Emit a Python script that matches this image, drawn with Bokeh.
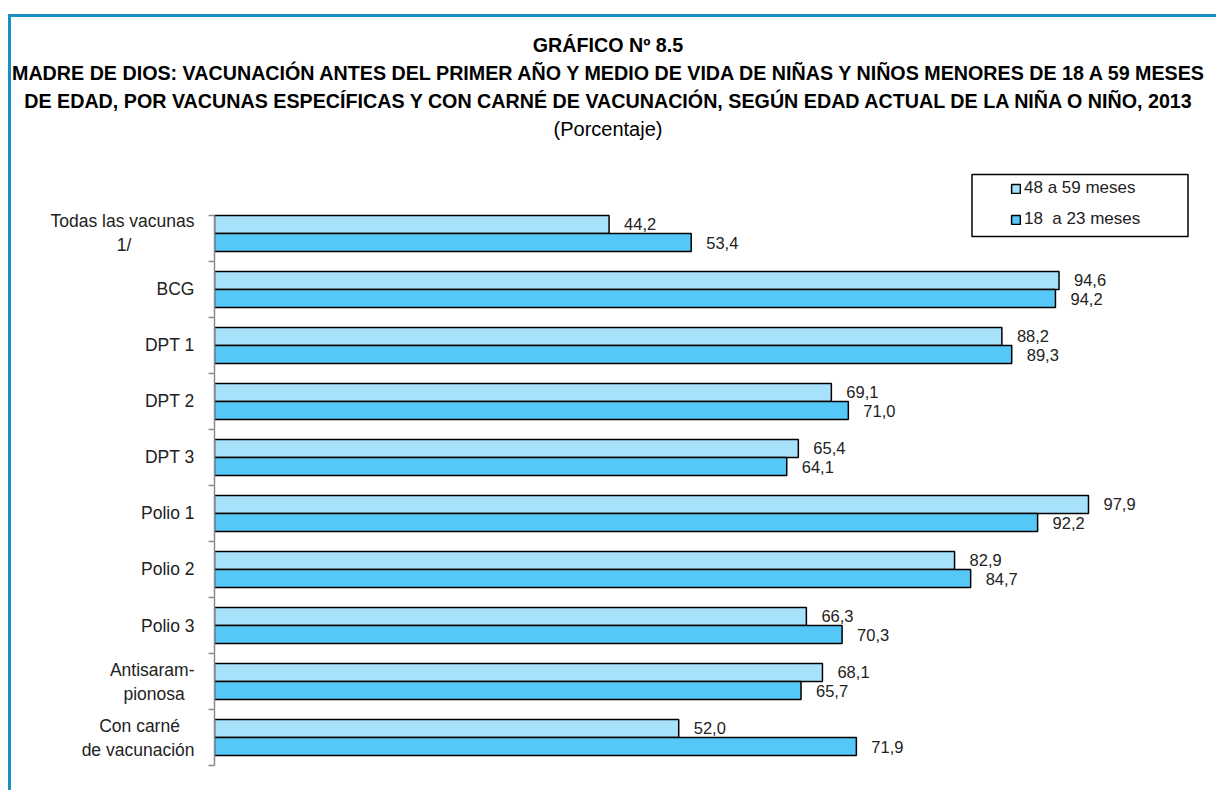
from bokeh.plotting import figure
from bokeh.layouts import column
from bokeh.models import (Range1d, LinearAxis, FixedTicker, ColumnDataSource, Legend,
                          LegendItem, BoxAnnotation, Div)
from bokeh.core.properties import value
from bokeh.transform import dodge
from bokeh.embed import file_html
from bokeh.resources import INLINE

# ---------------- data ----------------
categories = ["Todas las vacunas\n1/", "BCG", "DPT 1", "DPT 2", "DPT 3", "Polio 1",
              "Polio 2", "Polio 3", "Antisaram-\npionosa", "Con carné\nde vacunación"]
series_names = ["48 a 59 meses", "18  a 23 meses"]
vals_48_59 = [44.2, 94.6, 88.2, 69.1, 65.4, 97.9, 82.9, 66.3, 68.1, 52.0]
vals_18_23 = [53.4, 94.2, 89.3, 71.0, 64.1, 92.2, 84.7, 70.3, 65.7, 71.9]
title_lines = ["GRÁFICO Nº 8.5",
               "MADRE DE DIOS: VACUNACIÓN ANTES DEL PRIMER AÑO Y MEDIO DE VIDA DE NIÑAS Y NIÑOS MENORES DE 18 A 59 MESES",
               "DE EDAD, POR VACUNAS ESPECÍFICAS Y CON CARNÉ DE VACUNACIÓN, SEGÚN EDAD ACTUAL DE LA NIÑA O NIÑO, 2013"]
subtitle = "(Porcentaje)"

FONT = "Liberation Sans"
LIGHT = "#A8E1FB"
DARK = "#55C8F8"
BLUE = "#1a8fc4"
W = 1216
H_TOP = 160
H_MAIN = 630

n = len(categories)
centers = [i + 0.5 for i in range(n)]

# approximate Arial/Liberation Sans advance widths (em) to centre multi-line labels
_CW = {"T": .611, "o": .556, "d": .556, "a": .556, "s": .5, " ": .278, "l": .222,
       "v": .5, "c": .5, "u": .556, "n": .556, "1": .556, "/": .278, "A": .667,
       "t": .278, "i": .222, "r": .333, "m": .833, "-": .333, "p": .556, "C": .722,
       "é": .556, "e": .556, "ó": .556}
NBSP_W = .278


def centre_lines(label):
    lines = label.split("\n")
    if len(lines) == 1:
        return label
    widths = [sum(_CW.get(ch, .556) for ch in ln) for ln in lines]
    wmax = max(widths)
    out = [ln + "\u00a0" * int(round((wmax - w) / 2 / NBSP_W)) for ln, w in zip(lines, widths)]
    return "\n".join(out)


def fmt(v):
    return f"{v:.1f}".replace(".", ",")


src = ColumnDataSource(dict(
    y=centers,
    v1=vals_48_59, v2=vals_18_23,
    t1=[fmt(v) for v in vals_48_59], t2=[fmt(v) for v in vals_18_23],
))

# ---------------- title block ----------------
line_style = "height:28px;line-height:28px;text-align:center;white-space:nowrap;color:black;"
html = '<div style="padding-top:31px;width:%dpx;font-family:\'Liberation Sans\';">' % W
for t in title_lines:
    html += f'<div style="{line_style}font-size:19.7px;font-weight:bold;">{t}</div>'
html += f'<div style="{line_style}font-size:20px;font-weight:normal;">{subtitle}</div>'
html += "</div>"
top = Div(text=html, width=W, height=H_TOP, margin=0, styles={
    "background": f"linear-gradient({BLUE},{BLUE}) 8px 14px / calc(100% - 8px) 3px no-repeat, "
                  f"linear-gradient({BLUE},{BLUE}) 8px 14px / 3px 100% no-repeat",
})

# ---------------- main chart ----------------
p = figure(width=W, height=H_MAIN, output_backend="svg", toolbar_location=None,
           x_range=Range1d(0, 110), y_range=Range1d(10.232, -0.714),
           x_axis_location=None, y_axis_location=None,
           min_border_left=214, min_border_right=W - 1196, min_border_top=5,
           min_border_bottom=12, margin=0)
p.outline_line_color = None
p.xgrid.visible = False
p.ygrid.visible = False
p.border_fill_alpha = 0
p.background_fill_alpha = 0
p.styles = {
    "background": f"linear-gradient({BLUE},{BLUE}) 8px 0px / 3px 100% no-repeat",
}

yaxis = LinearAxis(
    ticker=FixedTicker(ticks=centers, minor_ticks=[0.18] + [i for i in range(1, n + 1)]),
    major_label_overrides={c: centre_lines(lab) for c, lab in zip(centers, categories)},
    bounds=(0.18, n),
)
yaxis.axis_line_color = "#8c8c8c"
yaxis.axis_line_width = 1.5
yaxis.major_tick_in = 0
yaxis.major_tick_out = 0
yaxis.minor_tick_in = 0
yaxis.minor_tick_out = 6
yaxis.minor_tick_line_color = "#8c8c8c"
yaxis.minor_tick_line_width = 1.5
yaxis.major_label_standoff = 14
yaxis.major_label_text_font = FONT
yaxis.major_label_text_font_size = "17.5px"
yaxis.major_label_text_color = "#222222"
p.add_layout(yaxis, "left")

# legend frame
p.add_layout(BoxAnnotation(left=84.85, right=109.05, top=-0.554, bottom=0.554,
                           fill_color="white", fill_alpha=1, line_color="black",
                           line_alpha=1, line_width=1.5))

r1 = p.hbar(y=dodge("y", -0.161), right="v1", left=0, height=0.322, source=src,
            fill_color=LIGHT, line_color="black", line_width=1.5)
r2 = p.hbar(y=dodge("y", 0.161), right="v2", left=0, height=0.322, source=src,
            fill_color=DARK, line_color="black", line_width=1.5)

for col, off in (("1", -0.161), ("2", 0.161)):
    p.text(x="v" + col, y=dodge("y", off), text="t" + col, source=src, x_offset=15,
           text_baseline="middle", text_align="left", text_font=value(FONT),
           text_font_size="16.5px", text_color="#222222")

legend = Legend(items=[LegendItem(label=series_names[0], renderers=[r1]),
                       LegendItem(label=series_names[1], renderers=[r2])],
                location=(796, 549), padding=0, border_line_color=None,
                background_fill_alpha=0, glyph_width=11, glyph_height=11,
                label_standoff=3, spacing=11, label_height=20,
                label_text_font=FONT, label_text_font_size="17px",
                label_text_color="#222222")
p.add_layout(legend)

layout = column(top, p, spacing=0)
open("out.html", "w").write(file_html(layout, INLINE))
